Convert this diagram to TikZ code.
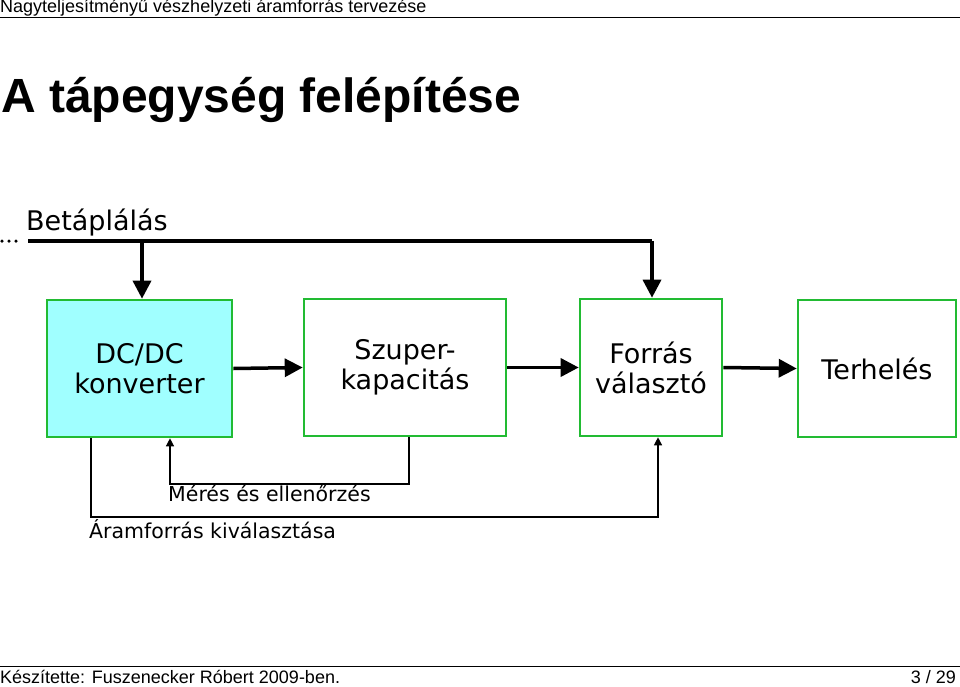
\documentclass[tikz,border=0pt]{standalone}
\usepackage{fontspec}
\setmainfont{Liberation Sans}
\newfontfamily\djfont{DejaVu Sans}
\usetikzlibrary{arrows.meta}
\definecolor{gbox}{HTML}{22BB33}
\definecolor{cyanf}{HTML}{A0FFFF}
\tikzset{
 blk/.style={draw=gbox,line width=2.6pt,fill=white,inner sep=0pt,font=\djfont\fontsize{27}{30}\selectfont,align=center},
 thick arr/.style={line width=3.5pt,-{Triangle[length=18pt,width=18pt]}},
 thin arr/.style={line width=1.3pt,-{Triangle[length=8pt,width=8pt]}},
 lbl/.style={font=\djfont\fontsize{20.5}{23}\selectfont,inner sep=0pt}
}
\begin{document}
\begin{tikzpicture}[x=1pt,y=-1pt]
\useasboundingbox (0,0) rectangle (960,687);
\node[anchor=west,inner sep=0pt,font=\fontsize{18}{20}\selectfont] (hd) at (0,8) {Nagyteljesítményű vészhelyzeti áramforrás tervezése};
\draw[line width=0.8pt] (0,17) -- (960,17);
\node[anchor=west,inner sep=0pt,font=\bfseries\fontsize{48}{54}\selectfont] (tt) at (1,100) {A tápegység felépítése};
\draw[line width=0.8pt] (0,666) -- (960,666);
\node[anchor=west,inner sep=0pt,font=\fontsize{18}{20}\selectfont] (ft) at (0,677) {Készítette: Fuszenecker Róbert 2009-ben.};
\node[anchor=east,inner sep=0pt,font=\fontsize{18}{20}\selectfont] (pg) at (956,677) {3 / 29};

\node[blk,fill=cyanf,minimum width=185pt,minimum height=137pt] (dc) at (139.5,368.5) {DC/DC\\konverter};
\node[blk,minimum width=202pt,minimum height=137pt] (sz) at (405,367.5) {Szuper-\\kapacitás};
\node[blk,minimum width=142pt,minimum height=137pt] (fv) at (651,367.5) {Forrás\\választó};
\node[blk,minimum width=158pt,minimum height=137pt] (th) at (877,368.5) {Terhelés};

\coordinate (b0) at (28,241);
\coordinate (b1) at (142,241);
\coordinate (b2) at (652,241);
\draw[line width=3.5pt,dash pattern=on 0pt off 7pt,line cap=round] (2,241) -- (22,241);
\node[lbl,anchor=south west,font=\djfont\fontsize{27}{30}\selectfont] (bt) at (26,236) {Betáplálás};
\draw[line width=3.5pt] (b0) -- (b2);
\draw[thick arr] (b1) -- (dc.north -| b1);
\draw[thick arr] (b2) -- (fv.north -| b2);
\draw[thick arr] (dc.east) -- (sz.west);
\draw[thick arr] (sz.east) -- (fv.west);
\draw[thick arr] (fv.east) -- (th.west);

\coordinate (m1) at (409,484);
\coordinate (m2) at (170,484);
\draw[thin arr] (sz.south -| m1) -- (m1) -- (m2) -- (m2 |- dc.south);
\node[lbl,anchor=north west] (ml) at (168,485) {Mérés és ellenőrzés};
\coordinate (a1) at (91,517);
\coordinate (a2) at (658,517);
\draw[thin arr] (dc.south -| a1) -- (a1) -- (a2) -- (a2 |- fv.south);
\node[lbl,anchor=north west] (al) at (89,519) {Áramforrás kiválasztása};
\end{tikzpicture}
\end{document}
